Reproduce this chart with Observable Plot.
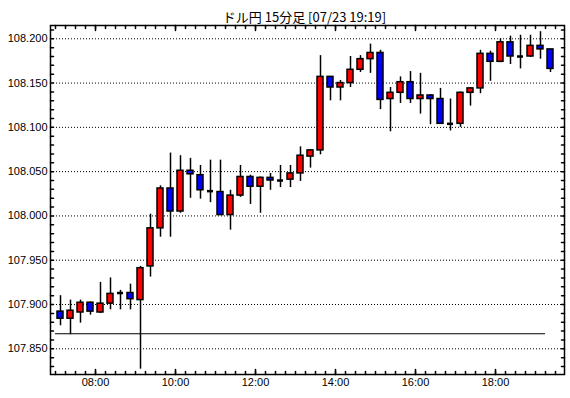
<!DOCTYPE html>
<html><head><meta charset="utf-8">
<script src="https://cdn.jsdelivr.net/npm/d3@7"></script>
<script src="https://cdn.jsdelivr.net/npm/@observablehq/plot@0.6"></script>
<style>body{margin:0;background:#fff}</style>
</head><body><div id="chart"></div>
<script>
const title = "ドル円 15分足 [07/23 19:19]";
const times = ["07:00","07:15","07:30","07:45","08:00","08:15","08:30","08:45","09:00","09:15",
  "09:30","09:45","10:00","10:15","10:30","10:45","11:00","11:15","11:30","11:45",
  "12:00","12:15","12:30","12:45","13:00","13:15","13:30","13:45","14:00","14:15",
  "14:30","14:45","15:00","15:15","15:30","15:45","16:00","16:15","16:30","16:45",
  "17:00","17:15","17:30","17:45","18:00","18:15","18:30","18:45","19:00","19:15"];
const open  = [107.892,107.884,107.891,107.902,107.891,107.901,107.913,107.913,107.905,107.943,
  107.986,108.031,108.005,108.051,108.046,108.028,108.027,108.001,108.023,108.044,
  108.033,108.043,108.040,108.041,108.048,108.067,108.074,108.157,108.145,108.150,
  108.165,108.177,108.184,108.132,108.139,108.151,108.132,108.136,108.132,108.104,
  108.104,108.139,108.144,108.183,108.174,108.196,108.180,108.180,108.192,108.188];
const high  = [107.910,107.905,107.905,107.903,107.925,107.930,107.916,107.923,107.943,108.002,
  108.034,108.071,108.068,108.065,108.057,108.063,108.063,108.029,108.057,108.046,
  108.044,108.048,108.057,108.057,108.078,108.075,108.181,108.157,108.153,108.180,
  108.181,108.194,108.187,108.145,108.157,108.163,108.161,108.137,108.144,108.132,
  108.140,108.145,108.187,108.186,108.200,108.203,108.204,108.204,108.208,108.188];
const low   = [107.876,107.866,107.879,107.888,107.890,107.894,107.894,107.894,107.827,107.931,
  107.976,107.976,108.003,108.020,108.019,108.015,108.001,107.984,108.021,108.013,
  108.003,108.029,108.032,108.032,108.039,108.054,108.069,108.130,108.130,108.145,
  108.162,108.161,108.120,108.095,108.127,108.127,108.115,108.103,108.104,108.096,
  108.100,108.124,108.138,108.152,108.173,108.171,108.166,108.179,108.177,108.162];
const close = [107.884,107.893,107.902,107.892,107.901,107.912,107.913,107.906,107.941,107.986,
  108.031,108.005,108.051,108.047,108.029,108.028,108.001,108.023,108.044,108.033,
  108.043,108.040,108.040,108.048,108.068,108.074,108.157,108.145,108.150,108.165,
  108.177,108.184,108.131,108.139,108.151,108.132,108.136,108.132,108.104,108.104,
  108.139,108.144,108.183,108.174,108.196,108.180,108.180,108.192,108.188,108.166];
const refLevel = 107.867;
const yTicks = [107.85, 107.90, 107.95, 108.00, 108.05, 108.10, 108.15, 108.20];
const xTickLabels = ["08:00","10:00","12:00","14:00","16:00","18:00"];
const yDomain = [107.821, 108.215];
const xDomain = ["06:52:30", "19:43:30"];
const barMinutes = 15;

const toH = s => { const [h, m, sec = 0] = s.split(":").map(Number); return h + m / 60 + sec / 3600; };
const step = barMinutes / 60;
const data = times.map((t, i) => ({t: toH(t), o: open[i], h: high[i], l: low[i], c: close[i]}));
const x0 = toH(xDomain[0]), x1 = toH(xDomain[1]);
const minorX = d3.range(Math.ceil(x0 / step) * step, x1, step).filter(v => v > x0 + 0.01);
const majorX = xTickLabels.map(toH);
const minorY = d3.range(Math.ceil(yDomain[0] * 100), Math.floor(yDomain[1] * 100) + 1).map(v => v / 100);
const tickShape = {draw(ctx, l) { ctx.moveTo(0, 0); ctx.lineTo(0, -l); }};

const chart = Plot.plot({
  width: 570, height: 398,
  marginLeft: 50, marginRight: 6, marginTop: 25, marginBottom: 24,
  style: {fontFamily: "'Liberation Sans', Arial, sans-serif", fontSize: "11px", background: "#fff", color: "#000"},
  x: {domain: [x0, x1], axis: null},
  y: {domain: yDomain, axis: null},
  color: {type: "identity"},
  marks: [
    Plot.ruleY(yTicks, {stroke: "#000", strokeDasharray: "1,2"}),
    Plot.ruleY([refLevel], {x1: toH(times[0]), x2: toH(times[times.length - 1]), stroke: "#000"}),
    Plot.ruleX(data, {x: d => d.t + step / 2, y1: "l", y2: "h", stroke: "#000", strokeWidth: 1.5}),
    Plot.rect(data.filter(d => d.o !== d.c), {
      x1: "t", x2: d => d.t + step, y1: "o", y2: "c", insetLeft: 2, insetRight: 2,
      fill: d => d.c > d.o ? "#ff0000" : "#0000ff", stroke: "#000", strokeWidth: 1.5
    }),
    Plot.ruleY(data.filter(d => d.o === d.c), {y: "c", x1: "t", x2: d => d.t + step, insetLeft: 2, insetRight: 2, stroke: "#000", strokeWidth: 2.5}),
    Plot.frame({stroke: "#000", strokeWidth: 1.5}),
    Plot.vector(minorY, {y: d => d, frameAnchor: "left", rotate: 90, length: 3, anchor: "start", shape: tickShape, stroke: "#000"}),
    Plot.vector(minorY, {y: d => d, frameAnchor: "right", rotate: -90, length: 3, anchor: "start", shape: tickShape, stroke: "#000"}),
    Plot.vector(minorX, {x: d => d, frameAnchor: "bottom", rotate: 0, length: 3, anchor: "start", shape: tickShape, stroke: "#000"}),
    Plot.vector(minorX, {x: d => d, frameAnchor: "top", rotate: 180, length: 3, anchor: "start", shape: tickShape, stroke: "#000"}),
    Plot.vector(majorX, {x: d => d, frameAnchor: "bottom", rotate: 0, length: 5, anchor: "start", shape: tickShape, stroke: "#000"}),
    Plot.vector(majorX, {x: d => d, frameAnchor: "top", rotate: 180, length: 5, anchor: "start", shape: tickShape, stroke: "#000"}),
    Plot.axisY(yTicks, {anchor: "left", tickSize: 0, tickPadding: 3, tickFormat: d => d.toFixed(3), fontSize: 11, label: null}),
    Plot.axisX(majorX, {anchor: "bottom", tickSize: 0, tickPadding: 4, tickFormat: (d, i) => xTickLabels[i], fontSize: 11, label: null}),
    Plot.text([title], {text: d => d, frameAnchor: "top", dy: -13, dx: -3, fontSize: 13, fontFamily: "'Noto Sans CJK JP', sans-serif", fill: "#000"})
  ]
});
document.getElementById("chart").append(chart);
</script>
</body></html>
